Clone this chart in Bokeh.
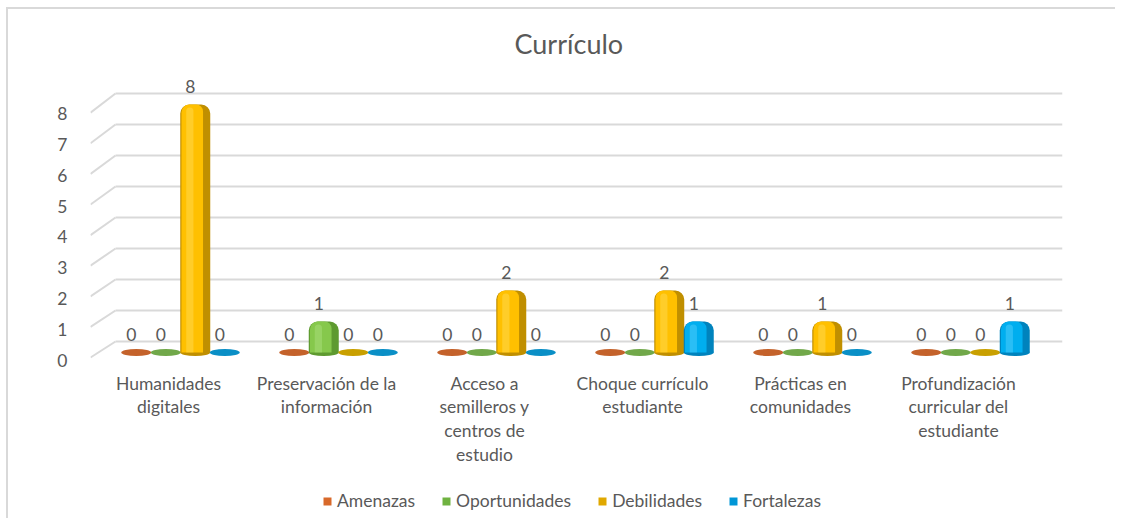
import numpy as np
from bokeh.plotting import figure
from bokeh.layouts import column
from bokeh.core.properties import value
from bokeh.models import (Range1d, LinearAxis, FixedTicker, Legend, LegendItem,
                          ColumnDataSource)
from bokeh.embed import file_html
from bokeh.resources import INLINE

# ---------------- data ----------------
categories = ["Humanidades digitales", "Preservación de la información",
              "Acceso a semilleros y centros de estudio", "Choque currículo estudiante",
              "Prácticas en comunidades", "Profundización curricular del estudiante"]
category_labels = ["Humanidades\ndigitales", "Preservación de la\ninformación",
                   "Acceso a\nsemilleros y\ncentros de\nestudio", "Choque currículo\nestudiante",
                   "Prácticas en\ncomunidades", "Profundización\ncurricular del\nestudiante"]
series_names = ["Amenazas", "Oportunidades", "Debilidades", "Fortalezas"]
amenazas      = [0, 0, 0, 0, 0, 0]
oportunidades = [0, 1, 0, 0, 0, 0]
debilidades   = [8, 0, 2, 2, 1, 0]
fortalezas    = [0, 0, 0, 1, 0, 1]
y_ticks = [0, 1, 2, 3, 4, 5, 6, 7, 8]

series_values = [amenazas, oportunidades, debilidades, fortalezas]

# ---------------- style ----------------
main_colors  = ["#E8762D", "#86C84C", "#FFC000", "#00AEEF"]
dark_colors  = ["#B85A22", "#5E9A30", "#C08F00", "#0083BD"]
light_colors = ["#F7AE7C", "#B5E38A", "#FFE066", "#6AD6FF"]
flat_colors  = ["#C4622B", "#71A84A", "#C9A000", "#0A8FC6"]
legend_colors = ["#D8692A", "#6FB240", "#E0A800", "#0096D6"]
FONT = "Lato"
TEXT = "#595959"
GRID = "#D9D9D9"
FS = "17.5px"

# pixel geometry (page coordinates) used to set up scales
CANVAS_X, CANVAS_Y = 8, 9
W, H = 1107, 465
LEG_H = 44
F_LEFT, F_RIGHT, F_TOP, F_BOTTOM = 90, 1062, 70, 362
PX_CAT = 158.0          # pixels per category
PX_VAL = 31.0           # pixels per unit value
BASE_PX = 352.0         # page y of value 0 for the bars
FIRST_LABEL_PX = 168.0  # page x of first category label centre
TITLE_LEFT_PX = 514.0
LEGEND_LEFT_PX = 322.0

x0 = 0.5 - (FIRST_LABEL_PX - F_LEFT) / PX_CAT
x1 = x0 + (F_RIGHT - F_LEFT) / PX_CAT
y0 = -(F_BOTTOM - BASE_PX) / PX_VAL
y1 = (BASE_PX - F_TOP) / PX_VAL

# tick labels sit on the front edge of the floor
LBL_BASE_PX, LBL_PX = 360.0, 30.9
a0 = (LBL_BASE_PX - F_BOTTOM) / LBL_PX
a1 = (LBL_BASE_PX - F_TOP) / LBL_PX

p = figure(width=W, height=H, output_backend="svg", toolbar_location=None,
           x_range=Range1d(x0, x1), y_range=Range1d(y0, y1),
           x_axis_type=None, y_axis_type=None,
           min_border_left=F_LEFT - CANVAS_X, min_border_right=CANVAS_X + W - F_RIGHT,
           min_border_top=F_TOP - CANVAS_Y, min_border_bottom=CANVAS_Y + H - F_BOTTOM,
           background_fill_color="white", border_fill_color="white")
p.outline_line_color = None

# title
p.title.text = "Currículo"
p.title.align = "left"
p.title.offset = TITLE_LEFT_PX - F_LEFT
p.title.text_font = FONT
p.title.text_font_size = "27px"
p.title.text_font_style = "normal"
p.title.text_color = TEXT
p.title.standoff = 21

# ---------------- 3D-like walls ----------------
back_dy = (BASE_PX - 341.0) / PX_VAL           # back wall is raised
back_dx = 25.0 / PX_CAT                         # back wall is shifted right
front_ys = [(BASE_PX - (357.0 - 30.6 * t)) / PX_VAL for t in y_ticks]
back_ys = [t + back_dy for t in y_ticks]
p.segment(x0=[x0 + back_dx] * len(y_ticks), y0=back_ys, x1=[x1] * len(y_ticks), y1=back_ys,
          line_color=GRID, line_width=2)
p.segment(x0=[x0] * len(y_ticks), y0=front_ys, x1=[x0 + back_dx] * len(y_ticks), y1=back_ys,
          line_color=GRID, line_width=2)

# ---------------- bars ----------------
group_shift = 12.0 / PX_CAT
step = 29.5 / PX_CAT
bw = 30.0 / PX_CAT
flat_h = 7.0 / PX_VAL
R = 9  # rounded top (px)

for s, vals in enumerate(series_values):
    xs = [i + 0.5 + group_shift + (s - 1.5) * step for i in range(len(categories))]
    pos = [(x, v) for x, v in zip(xs, vals) if v > 0]
    zer = [(x, v) for x, v in zip(xs, vals) if v == 0]
    px_ = [a for a, b in pos]
    pv_ = [b for a, b in pos]
    body = ColumnDataSource(dict(
        x=px_, top=pv_, top_h=[v - 3.0 / PX_VAL for v in pv_],
        xm=[x - 0.10 * bw for x in px_], xh=[x - 0.18 * bw for x in px_]))
    # bottom rounding
    p.ellipse(x="x", y=0, width=bw, height=flat_h, source=body,
              fill_color=dark_colors[s], line_color=None)
    # cylinder: dark shell, main face, light highlight
    p.vbar(x="x", top="top", bottom=0, width=bw, source=body, border_radius=(R, R, 0, 0),
           fill_color=dark_colors[s], line_color=None)
    p.vbar(x="xm", top="top", bottom=0, width=0.72 * bw, source=body,
           border_radius=(R - 1, R - 2, 0, 0),
           fill_color=main_colors[s], line_color=None)
    p.vbar(x="xh", top="top_h", bottom=0, width=0.24 * bw, source=body,
           border_radius=(4, 4, 0, 0),
           fill_color=light_colors[s], fill_alpha=0.4, line_color=None)
    # zero-value bars are flat discs
    zsrc = ColumnDataSource(dict(x=[a for a, b in zer], y=[b for a, b in zer]))
    p.ellipse(x="x", y="y", width=bw, height=flat_h, source=zsrc,
              fill_color=flat_colors[s], line_color=None)
    # value labels
    lsrc = ColumnDataSource(dict(x=xs, y=vals, t=[str(v) for v in vals]))
    p.text(x="x", y="y", text="t", source=lsrc, x_offset=-5, y_offset=-12,
           text_align="center", text_baseline="bottom", text_font=value(FONT),
           text_font_size=value(FS), text_color=TEXT)

# ---------------- axes ----------------
p.extra_y_ranges = {"ax": Range1d(a0, a1)}
yax = LinearAxis(y_range_name="ax", ticker=FixedTicker(ticks=y_ticks))
yax.axis_line_color = None
yax.major_tick_line_color = None
yax.minor_tick_line_color = None
yax.major_label_standoff = 17
yax.major_label_text_font = FONT
yax.major_label_text_font_size = FS
yax.major_label_text_color = TEXT
p.add_layout(yax, "left")

xax = LinearAxis(ticker=FixedTicker(ticks=[i + 0.5 for i in range(len(categories))]),
                 major_label_overrides={i + 0.5: lab for i, lab in enumerate(category_labels)})
xax.axis_line_color = None
xax.major_tick_line_color = None
xax.minor_tick_line_color = None
xax.major_label_standoff = 4
xax.major_label_text_font = FONT
xax.major_label_text_font_size = FS
xax.major_label_text_color = TEXT
xax.major_label_text_line_height = 1.14
p.add_layout(xax, "below")

# ---------------- legend (own strip) ----------------
pl = figure(width=W, height=LEG_H, output_backend="svg", toolbar_location=None,
            x_range=Range1d(0, 1), y_range=Range1d(0, 1),
            x_axis_type=None, y_axis_type=None, min_border=0,
            background_fill_color="white", border_fill_color="white")
pl.outline_line_color = None
legend_items = []
for s, name in enumerate(series_names):
    # zero-size proxy swatch: invisible in the strip, its fill is used by the legend
    src = ColumnDataSource(dict(x=[0.5], top=[0.5], bottom=[0.5]))
    lr = pl.vbar(x="x", top="top", bottom="bottom", width=0.0, source=src,
                 fill_color=legend_colors[s], line_color=None)
    legend_items.append(LegendItem(label=name, renderers=[lr]))
legend = Legend(items=legend_items, orientation="horizontal",
                location=(LEGEND_LEFT_PX - F_LEFT, 7),
                label_text_font=FONT, label_text_font_size=FS, label_text_color=TEXT,
                glyph_width=10, glyph_height=10, spacing=26, label_standoff=5,
                border_line_color=None, background_fill_alpha=0, margin=0, padding=0)
pl.add_layout(legend, "center")

layout = column(p, pl, spacing=0,
                styles={"margin-left": "6px", "margin-top": "7px",
                        "border-left": "2px solid #D9D9D9", "border-top": "2px solid #D9D9D9"})

open("out.html", "w").write(file_html(layout, INLINE))
